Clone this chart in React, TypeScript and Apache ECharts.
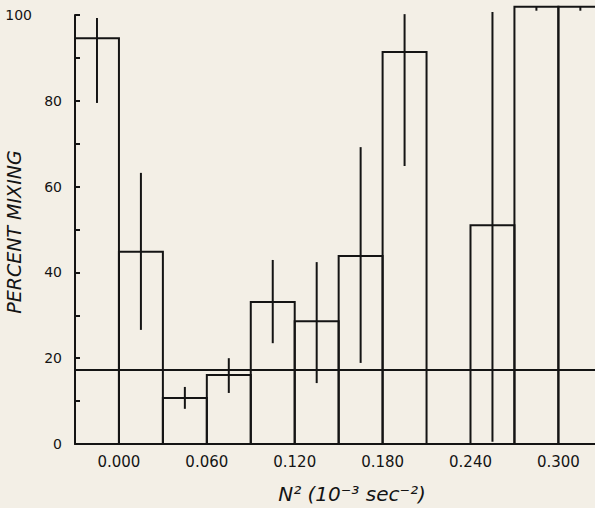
import React, { useEffect, useRef } from "react";
import * as echarts from "echarts";

const binStart = [-0.03, 0, 0.03, 0.06, 0.09, 0.12, 0.15, 0.18, 0.21, 0.24, 0.27, 0.3];
const binWidth = 0.03;
const percentMixing = [94.6, 44.8, 10.7, 16.1, 33.1, 28.6, 43.8, 91.4, 0, 51.0, 101.9, 101.9];
const errLow = [79.5, 26.6, 8.2, 11.9, 23.5, 14.2, 18.9, 64.8, null, 0.5, 101.0, 101.0];
const errHigh = [99.3, 63.2, 13.3, 20.0, 42.9, 42.4, 69.2, 100.2, null, 100.7, 101.9, 101.9];
const overallMean = 17.2;
const xTickLabels = ["0.000", "0.060", "0.120", "0.180", "0.240", "0.300"];
const yTickLabels = [0, 20, 40, 60, 80, 100];

const INK = "#141414";
const BG = "#f3efe6";
const FONT = "DejaVu Sans";

export default function App() {
  const ref = useRef<HTMLDivElement>(null);
  useEffect(() => {
    if (!ref.current) return;
    const chart = echarts.init(ref.current, null, { renderer: "svg" });
    const data = binStart.map((x0, i) => [x0, x0 + binWidth, percentMixing[i], errLow[i], errHigh[i]]);
    chart.setOption({
      animation: false,
      backgroundColor: BG,
      grid: { left: 75, right: 0, top: 15, bottom: 64, containLabel: false, outerBoundsMode: "none" },
      xAxis: {
        type: "value",
        min: -0.03,
        max: 0.325,
        interval: 0.03,
        axisLine: { show: true, onZero: false, lineStyle: { color: INK, width: 2 } },
        axisTick: { show: false },
        splitLine: { show: false },
        axisLabel: {
          margin: 10,
          color: INK,
          fontFamily: FONT,
          fontSize: 15,
          showMinLabel: true,
          showMaxLabel: true,
          hideOverlap: false,
          formatter: (v: number) => {
            const k = Math.round(v / 0.06);
            if (Math.abs(v - k * 0.06) > 1e-6 || k < 0) return "";
            return xTickLabels[k] ?? "";
          },
        },
      },
      yAxis: {
        type: "value",
        min: 0,
        max: 100,
        interval: 10,
        axisLine: { show: true, onZero: false, lineStyle: { color: INK, width: 2 } },
        axisTick: { show: true, inside: true, length: 5, lineStyle: { color: INK, width: 2 } },
        splitLine: { show: false },
        axisLabel: {
          margin: 13,
          color: INK,
          fontFamily: FONT,
          fontSize: 14,
          formatter: (v: number) => {
            if (!yTickLabels.includes(v)) return "";
            return v === 100 ? "{far|100}" : String(v);
          },
          rich: {
            far: { padding: [0, 30, 0, 0], color: INK, fontFamily: FONT, fontSize: 14 },
          },
        },
      },
      graphic: [
        {
          type: "text",
          x: 14,
          y: 232,
          rotation: Math.PI / 2,
          style: {
            text: "PERCENT MIXING",
            fill: INK,
            font: `italic 19px '${FONT}'`,
            textAlign: "center",
            textVerticalAlign: "middle",
          },
        },
        {
          type: "text",
          x: 352,
          y: 494,
          style: {
            text: "N² (10⁻³ sec⁻²)",
            fill: INK,
            font: `italic 20px '${FONT}'`,
            textAlign: "center",
            textVerticalAlign: "middle",
          },
        },
      ],
      series: [
        {
          type: "custom",
          clip: false,
          data,
          renderItem: (params: any, api: any) => {
            const x0 = api.value(0);
            const x1 = api.value(1);
            const v = api.value(2);
            const lo = api.value(3);
            const hi = api.value(4);
            const children: any[] = [];
            const p0 = api.coord([x0, 0]);
            const p1 = api.coord([x1, v]);
            if (v > 0) {
              children.push({
                type: "polyline",
                shape: { points: [[p0[0], p0[1]], [p0[0], p1[1]], [p1[0], p1[1]], [p1[0], p0[1]]] },
                style: { stroke: INK, lineWidth: 2, fill: "none", lineJoin: "miter" },
              });
            }
            if (!isNaN(lo) && !isNaN(hi) && lo !== null && hi !== null) {
              const xc = (x0 + x1) / 2;
              const a = api.coord([xc, lo]);
              const b = api.coord([xc, hi]);
              children.push({
                type: "line",
                shape: { x1: a[0], y1: a[1], x2: b[0], y2: b[1] },
                style: { stroke: INK, lineWidth: 2 },
              });
            }
            return { type: "group", children };
          },
          markLine: {
            silent: true,
            symbol: "none",
            label: { show: false },
            lineStyle: { color: INK, width: 2, type: "solid" },
            data: [{ yAxis: overallMean }],
          },
        },
      ],
    });
    return () => chart.dispose();
  }, []);
  return (
    <div
      ref={ref}
      style={{ position: "fixed", left: 0, top: 0, width: 595, height: 508 }}
    />
  );
}
